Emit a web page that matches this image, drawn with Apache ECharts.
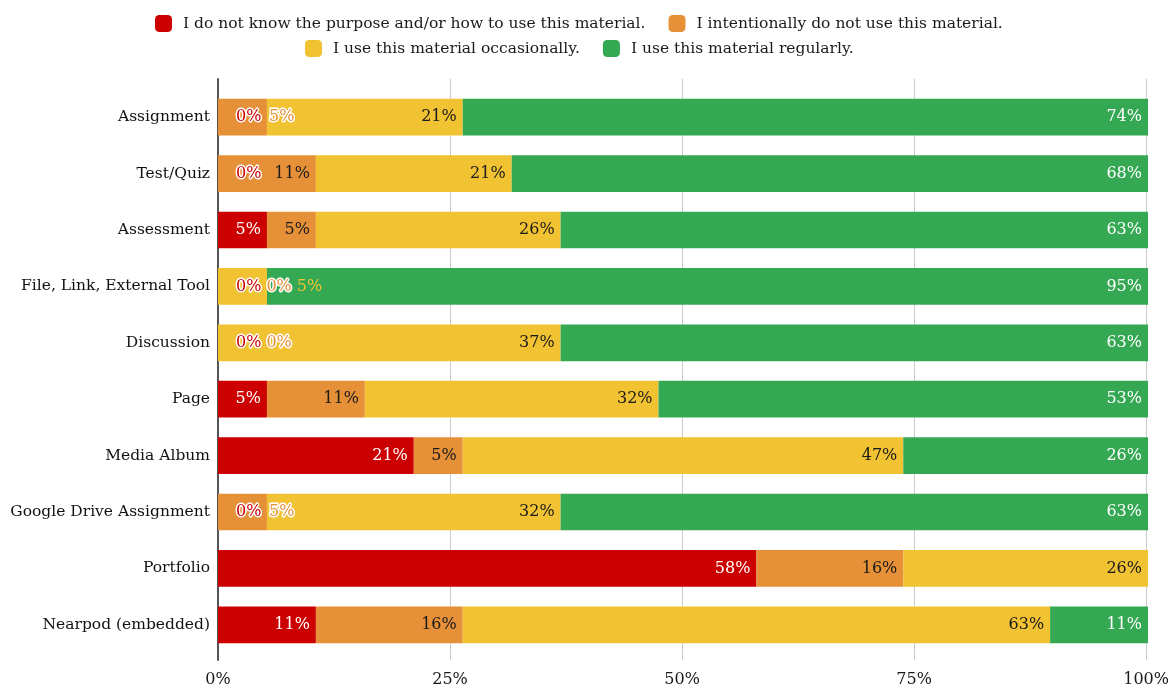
<!DOCTYPE html>
<html>
<head>
<meta charset="utf-8">
<script src="https://cdn.jsdelivr.net/npm/echarts@6/dist/echarts.min.js"></script>
<style>html,body{margin:0;padding:0;background:#fff}#c{width:1172px;height:688px}</style>
</head>
<body>
<div id="c"></div>
<script>
// Categories (top to bottom)
const categories = ['Assignment','Test/Quiz','Assessment','File, Link, External Tool','Discussion','Page','Media Album','Google Drive Assignment','Portfolio','Nearpod (embedded)'];
const seriesNames = ['I do not know the purpose and/or how to use this material.','I intentionally do not use this material.','I use this material occasionally.','I use this material regularly.'];
const colors = ['#cc0000','#e69138','#f1c232','#34a853'];
// Responses per category (19 respondents each)
const notKnow      = [0,0,1,0,0,1,4,0,11,2];
const intentional  = [1,2,1,0,0,2,1,1,3,3];
const occasionally = [4,4,5,1,7,6,9,6,5,12];
const regularly    = [14,13,12,18,12,10,5,12,0,2];
const xTicks = ['0%','25%','50%','75%','100%'];

const counts = [notKnow, intentional, occasionally, regularly];
const FONT = 'DejaVu Serif';
const FS = 16;
const gridLeft = 218, gridRight = 24, W = 1172;
const plotW = W - gridLeft - gridRight;
const insideColors = ['#ffffff','#1a1a1a','#1a1a1a','#ffffff'];
const outsideBorder = [3,3,0,0];

const ctx = document.createElement('canvas').getContext('2d');
ctx.font = FS + 'px "' + FONT + '"';
const tw = t => ctx.measureText(t).width;

const totals = categories.map((_, r) => counts.reduce((a, s) => a + s[r], 0));
const pct = counts.map(s => s.map((v, r) => v / totals[r] * 100));

// label layout per row
const labelCfg = counts.map(() => []);
categories.forEach((_, r) => {
  let cum = 0;
  let prevRight = 13;
  for (let i = 0; i < counts.length; i++) {
    const v = pct[i][r];
    const s = cum / 100 * plotW, e = (cum + v) / 100 * plotW;
    cum += v;
    const txt = Math.round(v) + '%';
    const w = tw(txt);
    const pad = 6;
    const inLeft = e - pad - w;
    if (e - s >= w + 2 * pad && inLeft >= prevRight + 4) {
      labelCfg[i][r] = { show: true, position: 'insideRight', distance: pad, color: insideColors[i] };
      prevRight = e - pad;
    } else {
      const left = Math.max(e + 2, prevRight + 5);
      if (left + w > plotW) { labelCfg[i][r] = { show: false }; continue; }
      labelCfg[i][r] = {
        show: true, position: [left - s, '50%'], align: 'left', verticalAlign: 'middle',
        color: colors[i], textBorderColor: '#ffffff', textBorderWidth: outsideBorder[i]
      };
      prevRight = left + w;
    }
  }
});

const series = seriesNames.map((name, i) => ({
  name, type: 'bar', stack: 'all', barWidth: '65%',
  xAxisIndex: 0, yAxisIndex: 0,
  itemStyle: { color: colors[i] },
  label: { show: true, fontFamily: FONT, fontSize: FS, formatter: p => Math.round(p.value) + '%' },
  data: pct[i].map((v, r) => ({ value: v, label: labelCfg[i][r] })),
  emphasis: { disabled: true }
}));

const legendCommon = {
  icon: 'roundRect', itemWidth: 17, itemHeight: 17, itemGap: 23, padding: 0,
  textStyle: { fontFamily: FONT, fontSize: 15.5, color: '#1a1a1a', padding: [0, 0, 0, 6] },
  selectedMode: false
};

const chart = echarts.init(document.getElementById('c'));
chart.setOption({
  animation: false,
  color: colors,
  legend: [
    Object.assign({ top: 15, left: 155, data: seriesNames.slice(0, 2) }, legendCommon),
    Object.assign({ top: 40, left: 305, data: seriesNames.slice(2) }, legendCommon)
  ],
  grid: [
    { left: gridLeft, right: gridRight, top: 89, bottom: 35 },
    { left: gridLeft, right: gridRight, top: 79, bottom: 28 }
  ],
  xAxis: [
    { gridIndex: 0, type: 'value', min: 0, max: 100, interval: 25,
      axisLine: { show: false }, axisTick: { show: false },
      splitLine: { show: false }, axisLabel: { show: false } },
    { gridIndex: 1, type: 'value', min: 0, max: 100, interval: 25, z: 0,
      axisLine: { show: false }, axisTick: { show: false },
      splitLine: { lineStyle: { color: '#cccccc', width: 1 } },
      axisLabel: { fontFamily: FONT, fontSize: 16, color: '#1a1a1a', margin: 12,
        formatter: v => xTicks[v / 25] } }
  ],
  yAxis: [
    { gridIndex: 0, type: 'category', data: categories, inverse: true,
      axisLine: { show: false }, axisTick: { show: false },
      axisLabel: { fontFamily: FONT, fontSize: 15.5, color: '#111', margin: 8 } },
    { gridIndex: 1, type: 'value', min: 0, max: 1,
      axisLine: { show: true, lineStyle: { color: '#555', width: 2 } },
      axisTick: { show: false }, axisLabel: { show: false }, splitLine: { show: false } }
  ],
  series
});
</script>
</body>
</html>
